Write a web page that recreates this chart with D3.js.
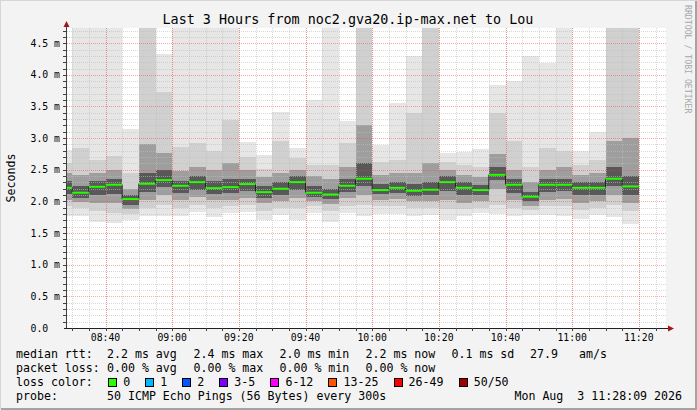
<!DOCTYPE html>
<html>
<head>
<meta charset="utf-8">
<script src="https://cdn.jsdelivr.net/npm/d3@7"></script>
<style>
body { margin: 0; background: #f3f3f3; }
svg text { font-family: "DejaVu Sans Mono", monospace; fill: #000; }
</style>
</head>
<body>
<svg class="smoke" width="697" height="410"></svg>
<script>
// 5 minute rounds (end time of each step)
var barEnds = ["08:30","08:35","08:40","08:45","08:50","08:55","09:00","09:05","09:10","09:15",
               "09:20","09:25","09:30","09:35","09:40","09:45","09:50","09:55","10:00","10:05",
               "10:10","10:15","10:20","10:25","10:30","10:35","10:40","10:45","10:50","10:55",
               "11:00","11:05","11:10","11:15","11:20"];

// median rtt, ms
var median = [2.215,2.137,2.231,2.263,2.037,2.279,2.337,2.247,2.305,2.210,
              2.226,2.274,2.147,2.200,2.305,2.137,2.110,2.247,2.358,2.179,
              2.215,2.168,2.184,2.305,2.215,2.179,2.420,2.263,2.074,2.263,
              2.263,2.215,2.215,2.358,2.237];

// smoke: outer (min/max) band down to the inner band round the median, ms
var lo0 = [1.77,1.77,1.68,1.66,1.705,1.77,1.77,1.77,1.83,1.75,1.82,1.83,1.705,1.79,1.705,1.81,1.68,1.81,
           1.77,1.80,1.80,1.77,1.79,1.705,1.77,1.81,1.80,1.77,1.79,1.79,1.77,1.716,1.79,1.76,1.65];
var hi0 = [2.81,4.8,4.8,4.8,3.14,4.8,4.33,4.8,4.8,4.8,4.8,2.94,2.74,3.42,2.85,3.6,4.8,3.27,
           4.8,2.89,3.56,4.29,4.8,2.77,2.78,2.83,3.84,3.9,4.29,4.19,4.8,2.79,3.09,4.8,4.8];
var lo1 = [1.92,1.90,1.85,1.82,1.80,1.90,1.95,1.90,1.95,1.90,1.92,1.95,1.85,1.90,1.90,1.92,1.85,1.93,
           1.95,1.92,1.92,1.90,1.90,1.88,1.88,1.90,1.95,1.90,1.86,1.92,1.92,1.87,1.90,1.95,1.85];
var hi1 = [2.60,2.85,2.65,2.72,2.45,4.8,3.73,2.86,2.92,2.80,3.28,2.70,2.52,2.95,2.68,2.58,2.58,2.92,
           4.8,2.62,2.65,3.40,4.8,2.62,2.58,2.55,3.40,2.95,2.55,2.85,2.80,2.58,2.65,4.8,4.8];
var lo2 = [2.03,1.99,1.98,1.97,1.88,2.02,2.10,2.02,2.07,2.02,2.03,2.05,1.97,2.00,2.05,2.00,1.96,2.05,
           2.10,2.03,2.04,2.00,2.01,2.02,1.98,2.00,2.20,2.02,1.93,2.03,2.04,1.98,2.00,2.10,1.98];
var hi2 = [2.45,2.42,2.45,2.50,2.20,2.90,2.76,2.48,2.55,2.50,2.60,2.50,2.38,2.45,2.50,2.40,2.35,2.55,
           3.20,2.42,2.45,2.45,2.60,2.50,2.42,2.38,2.75,2.50,2.30,2.50,2.55,2.42,2.45,2.95,3.00];
var lo3 = [2.12,2.06,2.10,2.12,1.95,2.15,2.22,2.14,2.18,2.12,2.13,2.17,2.06,2.10,2.18,2.07,2.04,2.15,
           2.24,2.11,2.13,2.09,2.10,2.17,2.10,2.10,2.34,2.14,2.00,2.15,2.16,2.10,2.10,2.24,2.10];
var hi3 = [2.33,2.25,2.32,2.36,2.10,2.45,2.50,2.33,2.40,2.32,2.36,2.36,2.25,2.30,2.40,2.24,2.20,2.36,
           2.60,2.28,2.30,2.28,2.30,2.40,2.30,2.26,2.55,2.36,2.15,2.36,2.36,2.30,2.30,2.55,2.40];

var yTicks = [0, 0.5, 1.0, 1.5, 2.0, 2.5, 3.0, 3.5, 4.0, 4.5];

var statRows = [
  ["median rtt:", "2.2 ms avg", "2.4 ms max", "2.0 ms min", "2.2 ms now", "0.1 ms sd", "27.9", "am/s"],
  ["packet loss:", "0.00 % avg", "0.00 % max", "0.00 % min", "0.00 % now"]
];
var lossLabels = ["0", "1", "2", "3-5", "6-12", "13-25", "26-49", "50/50"];
var lossColors = ["#26ff00", "#00b8ff", "#0059ff", "#7e00ff", "#ff00ff", "#ff5500", "#ff0000", "#a10000"];

var svg = d3.select(".smoke"),
    width = +svg.attr("width"),
    height = +svg.attr("height");

var parseT = d3.utcParse("%Y-%m-%d %H:%M:%S");
var tStart = parseT("2026-08-03 08:28:09"),
    tEnd = parseT("2026-08-03 11:28:09");

var x = d3.scaleUtc().domain([tStart, tEnd]).range([66, 666]);
var y = d3.scaleLinear().domain([0, 4.74]).range([328, 28]);

// frame
svg.append("rect").attr("width", width).attr("height", height).attr("fill", "#f3f3f3");
svg.append("path").attr("d", "M0,409V0H697").attr("fill", "none").attr("stroke", "#d6d6d6").attr("stroke-width", 2);
svg.append("path").attr("d", "M1,409H696V1").attr("fill", "none").attr("stroke", "#a4a4a4").attr("stroke-width", 2);

svg.append("rect")
    .attr("x", 66).attr("y", 28).attr("width", 600).attr("height", 300)
    .attr("fill", "#fff");

var bars = barEnds.map(function(s, i) {
  var end = parseT("2026-08-03 " + s + ":00");
  var start = d3.utcMinute.offset(end, -5);
  if (start < tStart) start = tStart;
  return {start: start, end: end, i: i};
});

// smoke, outer band first
var bands = [[lo0, hi0, "#e6e6e6"], [lo1, hi1, "#d0d0d0"], [lo2, hi2, "#9e9e9e"], [lo3, hi3, "#585858"]];
var gSmoke = svg.append("g").attr("shape-rendering", "crispEdges");
bands.forEach(function(b) {
  gSmoke.append("g").selectAll("rect")
    .data(bars)
    .enter().append("rect")
      .attr("x", function(d) { return x(d.start); })
      .attr("width", function(d) { return x(d.end) - x(d.start); })
      .attr("y", function(d) { return y(Math.min(b[1][d.i], 4.74)); })
      .attr("height", function(d) { return y(b[0][d.i]) - y(Math.min(b[1][d.i], 4.74)); })
      .attr("fill", b[2]);
});

// grid
var grid = svg.append("g").attr("shape-rendering", "crispEdges").attr("stroke-dasharray", "1,1");
var minorV = x.ticks(d3.utcMinute.every(5)),
    majorV = x.ticks(d3.utcMinute.every(20));
var minorH = d3.range(1, 48).filter(function(k) { return k % 5; }).map(function(k) { return k / 10; }),
    majorH = yTicks.filter(function(v) { return v > 0; });

grid.selectAll(".mv").data(minorV).enter().append("line")
    .attr("x1", function(d) { return Math.round(x(d)) + 0.5; })
    .attr("x2", function(d) { return Math.round(x(d)) + 0.5; })
    .attr("y1", 28).attr("y2", 328)
    .attr("stroke", "rgba(190,190,190,0.6)");
grid.selectAll(".mh").data(minorH).enter().append("line")
    .attr("x1", 67).attr("x2", 666)
    .attr("y1", function(d) { return Math.round(y(d)) + 0.5; })
    .attr("y2", function(d) { return Math.round(y(d)) + 0.5; })
    .attr("stroke", "rgba(190,190,190,0.6)");
grid.selectAll(".Mv").data(majorV).enter().append("line")
    .attr("x1", function(d) { return Math.round(x(d)) + 0.5; })
    .attr("x2", function(d) { return Math.round(x(d)) + 0.5; })
    .attr("y1", 28).attr("y2", 328)
    .attr("stroke", "rgba(255,60,60,0.45)");
grid.selectAll(".Mh").data(majorH).enter().append("line")
    .attr("x1", 67).attr("x2", 666)
    .attr("y1", function(d) { return Math.round(y(d)) + 0.5; })
    .attr("y2", function(d) { return Math.round(y(d)) + 0.5; })
    .attr("stroke", "rgba(255,60,60,0.45)");

// median: thin dark step line, then loss colour on top
var stepPts = bars.map(function(d) { return [d.start, median[d.i]]; });
stepPts.push([bars[bars.length - 1].end, median[bars.length - 1]]);
svg.append("path")
    .datum(stepPts)
    .attr("fill", "none")
    .attr("stroke", "#202020")
    .attr("stroke-width", 1)
    .attr("d", d3.line().curve(d3.curveStepAfter)
      .x(function(d) { return x(d[0]); })
      .y(function(d) { return y(d[1]); }));

svg.append("g").selectAll("line")
    .data(bars)
    .enter().append("line")
      .attr("x1", function(d) { return x(d.start); })
      .attr("x2", function(d) { return x(d.end); })
      .attr("y1", function(d) { return y(median[d.i]); })
      .attr("y2", function(d) { return y(median[d.i]); })
      .attr("stroke", lossColors[0])
      .attr("stroke-width", 2);

// axes
var axes = svg.append("g").attr("shape-rendering", "crispEdges");
axes.append("line").attr("x1", 66.5).attr("x2", 66.5).attr("y1", 328).attr("y2", 26).attr("stroke", "#404040");
axes.append("line").attr("x1", 64).attr("x2", 670).attr("y1", 328.5).attr("y2", 328.5).attr("stroke", "#202020");
svg.append("path").attr("d", "M63.5,27L66.5,21L69.5,27Z").attr("fill", "#a01818");
svg.append("path").attr("d", "M668,325.5L674,328.5L668,331.5Z").attr("fill", "#a01818");

axes.selectAll(".tx").data(minorV).enter().append("line")
    .attr("x1", function(d) { return Math.round(x(d)) + 0.5; })
    .attr("x2", function(d) { return Math.round(x(d)) + 0.5; })
    .attr("y1", 328).attr("y2", 331)
    .attr("stroke", "#404040");
axes.selectAll(".ty").data(minorH.concat(majorH)).enter().append("line")
    .attr("x1", 63).attr("x2", 66)
    .attr("y1", function(d) { return Math.round(y(d)) + 0.5; })
    .attr("y2", function(d) { return Math.round(y(d)) + 0.5; })
    .attr("stroke", "#404040");

var fmt = d3.utcFormat("%H:%M");
svg.append("g").selectAll("text")
    .data(majorV)
    .enter().append("text")
      .attr("x", function(d) { return x(d); })
      .attr("y", 341)
      .attr("text-anchor", "middle")
      .attr("font-size", "9.8px")
      .text(function(d) { return fmt(d); });

svg.append("g").selectAll("text")
    .data(yTicks)
    .enter().append("text")
      .attr("x", 30.5)
      .attr("y", function(d) { return y(d) + 3.6; })
      .attr("font-size", "9.8px")
      .text(function(d) { return d === 0 ? "0.0" : d.toFixed(1) + " m"; });

// titles
svg.append("text")
    .attr("x", 348).attr("y", 24)
    .attr("text-anchor", "middle")
    .attr("font-size", "13.4px")
    .text("Last 3 Hours from noc2.gva20.ip-max.net to Lou");

svg.append("text")
    .attr("transform", "translate(15,178) rotate(-90)")
    .attr("text-anchor", "middle")
    .attr("font-size", "11.6px")
    .text("Seconds");

svg.append("text")
    .attr("transform", "translate(684.5,5) rotate(90)")
    .attr("font-size", "8.2px")
    .style("fill", "#a8a8a8")
    .text("RRDTOOL / TOBI OETIKER");

// legend
var cw = 7.02, legendX = [16, 107, 193.5, 279.5, 365.5, 451.5, 530, 579];
statRows.forEach(function(row, r) {
  svg.append("g").selectAll("text")
    .data(row)
    .enter().append("text")
      .attr("x", function(d, i) { return legendX[i]; })
      .attr("y", 357.5 + r * 14)
      .attr("font-size", "11.6px")
      .text(function(d) { return d; });
});

svg.append("text").attr("x", 16).attr("y", 385.5).attr("font-size", "11.6px").text("loss color:");
var lx = 108.3;
lossLabels.forEach(function(l, i) {
  svg.append("rect")
      .attr("x", Math.round(lx) + 0.5).attr("y", 378.5)
      .attr("width", 8).attr("height", 8)
      .attr("fill", lossColors[i])
      .attr("stroke", "#000");
  svg.append("text")
      .attr("x", lx + 15).attr("y", 385.5)
      .attr("font-size", "11.6px")
      .text(l);
  lx += 15 + l.length * cw + 15;
});

svg.append("text").attr("x", 16).attr("y", 399.5).attr("font-size", "11.6px").text("probe:");
svg.append("text").attr("x", 107).attr("y", 399.5).attr("font-size", "11.6px")
    .text("50 ICMP Echo Pings (56 Bytes) every 300s");
svg.append("text").attr("x", 682).attr("y", 399.5).attr("text-anchor", "end").attr("font-size", "11.6px")
    .attr("xml:space", "preserve")
    .style("white-space", "pre")
    .text("Mon Aug  3 11:28:09 2026");
</script>
</body>
</html>
